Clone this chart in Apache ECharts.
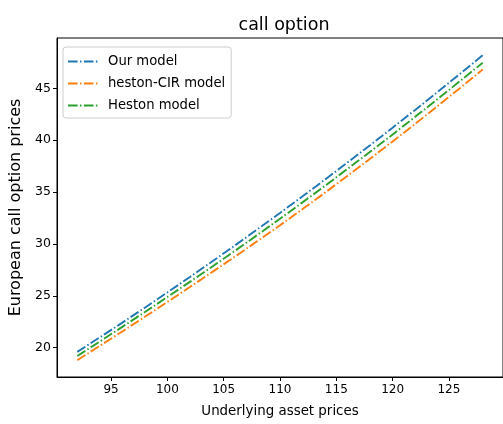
<!DOCTYPE html>
<html>
<head>
<meta charset="utf-8">
<script src="https://cdn.jsdelivr.net/npm/echarts@6/dist/echarts.min.js"></script>
<style>
html,body{margin:0;padding:0;background:#fff;}
#chart{width:503px;height:424px;}
</style>
</head>
<body>
<div id="chart"></div>
<script>
// Data
var assetPrices = [92, 94, 96, 98, 100, 102, 104, 106, 108, 110, 112, 114, 116, 118, 120, 122, 124, 126, 128];
var ourModel = [19.60, 21.00, 22.42, 23.86, 25.33, 26.82, 28.33, 29.86, 31.42, 32.99, 34.59, 36.21, 37.86, 39.52, 41.21, 42.92, 44.66, 46.41, 48.19];
var hestonCIR = [18.80, 20.18, 21.57, 22.98, 24.41, 25.85, 27.31, 28.78, 30.28, 31.80, 33.36, 34.95, 36.57, 38.21, 39.88, 41.57, 43.30, 45.04, 46.81];
var heston = [19.20, 20.60, 22.01, 23.44, 24.89, 26.35, 27.83, 29.34, 30.88, 32.43, 34.01, 35.61, 37.24, 38.88, 40.55, 42.25, 43.97, 45.71, 47.47];
var seriesNames = ['Our model', 'heston-CIR model', 'Heston model'];
var xTicks = [95, 100, 105, 110, 115, 120, 125];
var yTicks = [20, 25, 30, 35, 40, 45];

function pairs(xs, ys) { return xs.map(function (x, i) { return [x, ys[i]]; }); }

var colors = ['#1f77b4', '#ff7f0e', '#2ca02c'];
var dash = [9.6, 2.4, 1.5, 2.4];
var font = 'DejaVu Sans';

function mkSeries(name, ys, color) {
  return {
    name: name, type: 'line', data: pairs(assetPrices, ys),
    symbol: 'none', smooth: false,
    lineStyle: { color: color, width: 1.9, type: dash },
    itemStyle: { color: color },
    animation: false
  };
}

var chart = echarts.init(document.getElementById('chart'), null, { renderer: 'canvas' });
chart.setOption({
  animation: false,
  backgroundColor: '#fff',
  title: {
    text: 'call option', left: 279, top: 11, textAlign: 'center',
    textStyle: { fontFamily: font, fontSize: 17.5, fontWeight: 'normal', color: '#000' }
  },
  legend: {
    orient: 'vertical', left: 63, top: 47,
    data: seriesNames.map(function (n) { return { name: n }; }),
    itemWidth: 30, itemHeight: 14, itemGap: 9,
    padding: [8, 6, 6, 4],
    backgroundColor: 'rgba(255,255,255,0.8)',
    borderColor: '#cccccc', borderWidth: 1, borderRadius: 3,
    itemStyle: { opacity: 0 },
    textStyle: { fontFamily: font, fontSize: 13.2, color: '#000', padding: [0, 0, 0, 5] }
  },
  grid: {
    left: 57, top: 38, width: 453, bottom: 47,
    show: true, borderColor: '#000', borderWidth: 1, containLabel: false
  },
  xAxis: {
    type: 'value', min: 90.2, max: 129.8,
    name: 'Underlying asset prices', nameLocation: 'middle', nameGap: 28,
    nameTextStyle: { fontFamily: font, fontSize: 13.4, color: '#000' },
    axisLine: { show: true, lineStyle: { color: '#000', width: 1 } },
    axisTick: { show: true, length: 4, customValues: xTicks, lineStyle: { color: '#000' } },
    axisLabel: { customValues: xTicks, margin: 7, fontFamily: font, fontSize: 12, color: '#000' },
    splitLine: { show: false }
  },
  yAxis: {
    type: 'value', min: 17.18, max: 49.85,
    name: 'European call option prices', nameLocation: 'middle', nameGap: 28,
    nameTextStyle: { fontFamily: font, fontSize: 16, color: '#000' },
    axisLine: { show: true, lineStyle: { color: '#000', width: 1 } },
    axisTick: { show: true, length: 4, customValues: yTicks, lineStyle: { color: '#000' } },
    axisLabel: { customValues: yTicks, margin: 6, fontFamily: font, fontSize: 12.5, color: '#000' },
    splitLine: { show: false }
  },
  series: [
    mkSeries(seriesNames[0], ourModel, colors[0]),
    mkSeries(seriesNames[1], hestonCIR, colors[1]),
    mkSeries(seriesNames[2], heston, colors[2])
  ]
});
</script>
</body>
</html>
